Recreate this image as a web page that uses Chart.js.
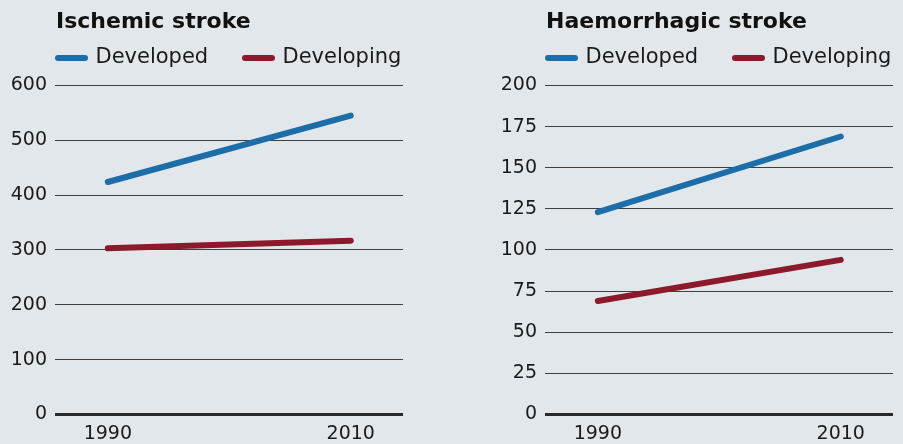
<!DOCTYPE html>
<html><head><meta charset="utf-8">
<script src="https://cdn.jsdelivr.net/npm/chart.js@4"></script>
<style>
html,body{margin:0;padding:0;background:#e1e7ea;width:903px;height:444px;overflow:hidden;}
.panel{position:absolute;top:0;height:444px;}
#p1{left:0;width:451px;}
#p2{left:451px;width:452px;}
</style></head><body>
<div class="panel" id="p1"><canvas id="c1"></canvas></div>
<div class="panel" id="p2"><canvas id="c2"></canvas></div>
<script>
// ---- data ----
const years = [1990, 2010];
const xTickLabels = ['1990', '2010'];
const seriesNames = ['Developed', 'Developing'];
const ischemicDeveloped = [424, 545];
const ischemicDeveloping = [303, 317];
const haemDeveloped = [123, 169];
const haemDeveloping = [69, 94];
const ischemicYTicks = [0, 100, 200, 300, 400, 500, 600];
const haemYTicks = [0, 25, 50, 75, 100, 125, 150, 175, 200];
const X_MIN = 1985.65, X_MAX = 2014.3;

const BLUE = '#1d6ea8';
const RED = '#8c1a2c';
const LEGEND_PAD = 36.8;

Chart.defaults.font.family = "'DejaVu Sans', sans-serif";

const placeHeader = {
  id: 'placeHeader',
  afterLayout(chart) {
    const ca = chart.chartArea;
    const lg = chart.legend, tb = chart.titleBlock;
    if (lg) {
      const P = lg.options.labels.padding;
      lg.left = ca.left + 3 - P; lg.right = chart.width + 400;
      lg.top = 10.7; lg.bottom = lg.top + lg.height;
    }
    if (tb) {
      tb.left = ca.left + 1; tb.right = chart.width + 400;
      tb.top = 13.6; tb.bottom = tb.top + tb.height;
    }
  }
};

function makeChart(id, titleText, dev, deving, yTicks, yWidth, rightWidth) {
  const mk = (label, vals, color) => ({
    label, data: years.map((x, i) => ({ x, y: vals[i] })),
    borderColor: color, backgroundColor: color,
    borderWidth: 6, borderCapStyle: 'round', borderJoinStyle: 'round',
    pointRadius: 0, pointHoverRadius: 0, pointBorderWidth: 6,
    pointBorderColor: color, pointBackgroundColor: color,
    xAxisID: 'x', yAxisID: 'y'
  });
  return new Chart(document.getElementById(id), {
    type: 'line',
    data: { datasets: [mk(seriesNames[0], dev, BLUE), mk(seriesNames[1], deving, RED)] },
    options: {
      responsive: true, maintainAspectRatio: false, animation: false,
      layout: { padding: 0 },
      plugins: {
        tooltip: { enabled: false },
        title: { display: true, text: titleText, align: 'start', color: '#111',
          font: { size: 22, weight: 'bold', lineHeight: 0.8045 }, padding: 0 },
        legend: { display: true, position: 'top', align: 'start',
          labels: { usePointStyle: true, pointStyle: 'line', pointStyleWidth: 27,
            padding: LEGEND_PAD, color: '#1a1a1a', font: { size: 21 },
            generateLabels: (chart) => Chart.defaults.plugins.legend.labels.generateLabels(chart)
              .map(l => ({ ...l, lineCap: 'round', lineWidth: 6,
                strokeStyle: chart.data.datasets[l.datasetIndex].borderColor })) } }
      },
      scales: {
        x: { type: 'linear', min: X_MIN, max: X_MAX,
          afterBuildTicks: s => { s.ticks = years.map(v => ({ value: v })); },
          ticks: { callback: v => { const i = years.indexOf(v); return i >= 0 ? xTickLabels[i] : ''; },
            font: { size: 19 }, color: '#1a1a1a', padding: 8, maxRotation: 0, autoSkip: false },
          grid: { display: false, drawTicks: false }, border: { display: false },
          afterFit: s => { s.height = 29.5; } },
        y: { min: 0, max: yTicks[yTicks.length - 1],
          afterBuildTicks: s => { s.ticks = yTicks.map(v => ({ value: v })); },
          ticks: { font: { size: 19 }, color: '#1a1a1a', padding: 8 },
          grid: { drawTicks: false,
            color: c => (c.tick && c.tick.value === 0) ? '#2a2a2a' : '#3f3f3f',
            lineWidth: c => (c.tick && c.tick.value === 0) ? 3 : 1 },
          border: { display: false },
          afterFit: s => { s.width = yWidth; } },
        yr: { position: 'right', display: true,
          grid: { display: false, drawTicks: false }, border: { display: false },
          ticks: { display: false },
          afterFit: s => { s.width = rightWidth; } }
      }
    },
    plugins: [placeHeader]
  });
}

makeChart('c1', 'Ischemic stroke', ischemicDeveloped, ischemicDeveloping, ischemicYTicks, 55, 48);
makeChart('c2', 'Haemorrhagic stroke', haemDeveloped, haemDeveloping, haemYTicks, 94, 10);
</script>
</body></html>
